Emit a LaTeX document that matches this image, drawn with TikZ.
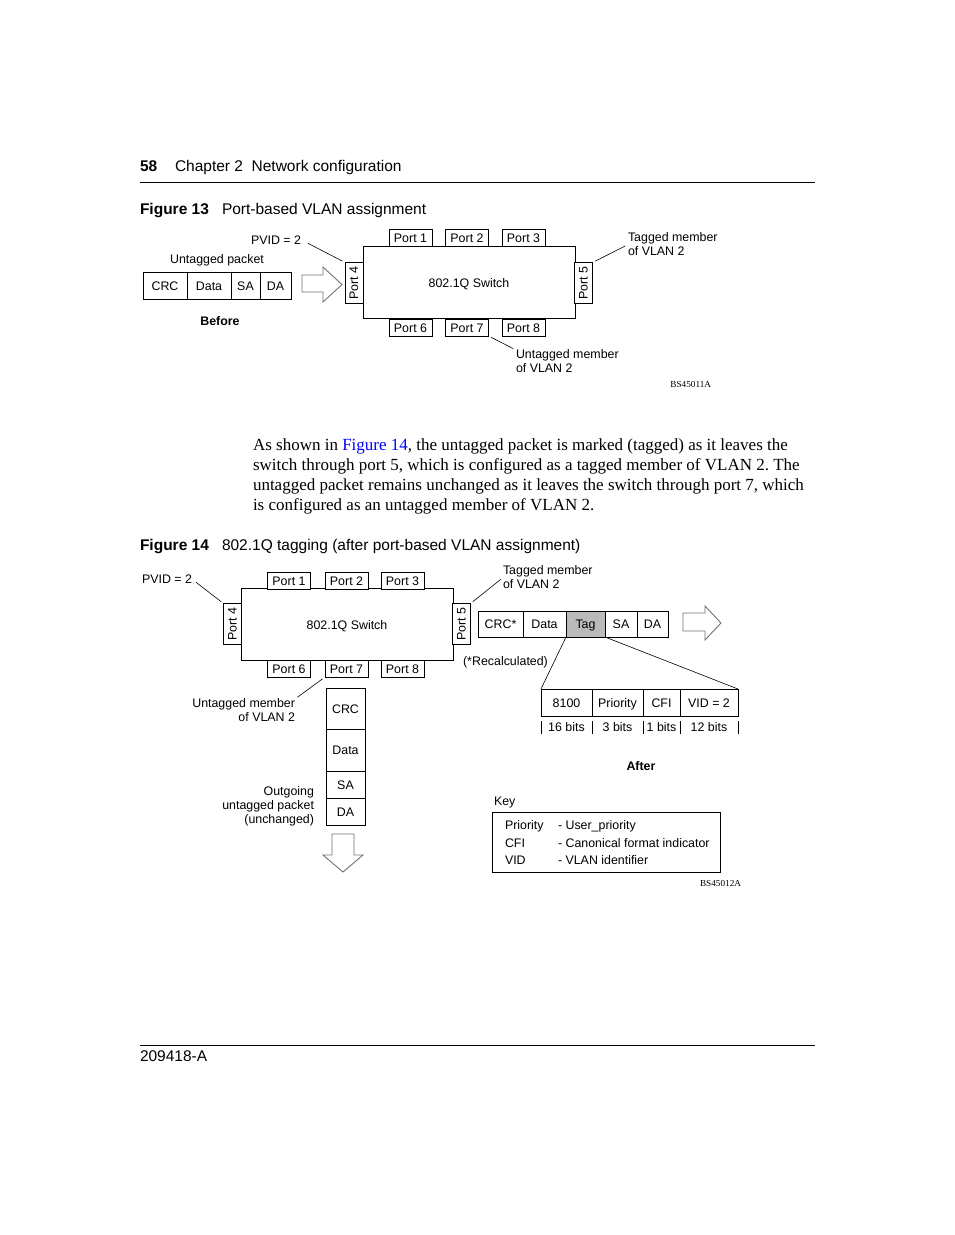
\documentclass[tikz,border=0pt]{standalone}
\usepackage{fontspec}
\setmainfont{Liberation Serif}
\setsansfont{Liberation Sans}
\usepackage{graphicx}
\usepackage{tikz}
\usetikzlibrary{positioning}
\frenchspacing

\newcommand{\figfont}{\sffamily\fontsize{12.4}{14}\selectfont}
\newcommand{\headfont}{\sffamily\fontsize{15.5}{18}\selectfont}
\newcommand{\bodyfont}{\rmfamily\fontsize{17}{20}\selectfont}
\newcommand{\codefont}{\rmfamily\fontsize{9.2}{10}\selectfont}

\begin{document}
\begin{tikzpicture}[x=1pt,y=-1pt,line width=0.8pt,
	every node/.style={inner sep=0pt,outer sep=0pt},
	cell/.style={draw,font=\figfont,minimum height=27pt,text height=9pt,text depth=0pt},
	port/.style={draw,fill=white,font=\figfont,minimum width=43pt,minimum height=17pt,text height=9pt,text depth=0pt},
	sideport/.style={draw,fill=white,font=\figfont,minimum width=18pt,minimum height=41pt},
	switchbox/.style={draw,font=\figfont,minimum width=212pt,minimum height=72pt,text height=9pt,text depth=0pt},
	note/.style={font=\figfont},
	leader/.style={line width=0.6pt,shorten <=3pt,shorten >=3pt},
	hollow/.style={draw=black!55,fill=white,line width=0.9pt,line join=miter}]
				\useasboundingbox[fill=white] (0,0) rectangle (954,1235);
				
				% page head
				\node[anchor=base west,font=\headfont\bfseries] (pagenum) at (140,171) {58};
				\node[anchor=base west,font=\headfont] (chapter) at (175,171) {Chapter 2~~Network configuration};
				\draw (140,182) -- (815,182);
				
				% figure 13
				\node[anchor=base west,font=\headfont\bfseries] (figA) at (140,214) {Figure 13};
				\node[anchor=base west,font=\headfont] (titleA) at (222,214) {Port-based VLAN assignment};
				
				\node[switchbox] (swA) at (469,282.5) {802.1Q Switch};
				\foreach \n/\x in {1/410.5, 2/467, 3/523.5}{
					\node[port] (pA\n) at (\x,237.5) {Port \n};
				}
				\foreach \n/\x in {6/410.5, 7/467, 8/523.5}{
					\node[port] (pA\n) at (\x,327.5) {Port \n};
				}
				\node[sideport] (pA4) at (354,283) {\rotatebox{90}{Port 4}};
				\node[sideport] (pA5) at (583.5,283) {\rotatebox{90}{Port 5}};
				
				\node[cell,minimum width=44pt] (crcA) at (165,285.5) {CRC};
				\node[cell,minimum width=44pt,right=0pt of crcA] (dataA) {Data};
				\node[cell,minimum width=29pt,right=0pt of dataA] (saA) {SA};
				\node[cell,minimum width=31pt,right=0pt of saA] (daA) {DA};
				\node[note,anchor=base] (pktA) at (217,263.5) {Untagged packet};
				\node[note,anchor=base,font=\figfont\bfseries] (beforeA) at (220,325.5) {Before};
				
				\draw[hollow] (302,275) -- (323,275) -- (323,267) -- (342,284.5) -- (323,302) -- (323,292) -- (302,292) -- cycle;
				
				\node[note,anchor=base east] (pvidA) at (301,244) {PVID = 2};
				\node[note,anchor=north west,align=left] (tagA) at (628,233) {Tagged member\\of VLAN 2};
				\node[note,anchor=north west,align=left] (untagA) at (516,350) {Untagged member\\of VLAN 2};
				\draw[leader,shorten <=8pt] (pvidA.east) -- (pA4.north west);
				\draw[leader] (pA5.north east) -- (tagA.west);
				\draw[leader] (pA7.south east) -- (untagA.north west);
				\node[anchor=base east,font=\codefont] (codeA) at (711,387) {BS45011A};
				
				% text
				\node[anchor=base west,font=\bodyfont] (lineA) at (253,450) {As shown in \textcolor{blue}{Figure 14}, the untagged packet is marked (tagged) as it leaves the};
				\node[anchor=base west,font=\bodyfont] (lineB) at (253,470) {switch through port 5, which is configured as a tagged member of VLAN 2. The};
				\node[anchor=base west,font=\bodyfont] (lineC) at (253,490) {untagged packet remains unchanged as it leaves the switch through port 7, which};
				\node[anchor=base west,font=\bodyfont] (lineD) at (253,510) {is configured as an untagged member of VLAN 2.};
				
				% figure 14
				\node[anchor=base west,font=\headfont\bfseries] (figB) at (140,550) {Figure 14};
				\node[anchor=base west,font=\headfont] (titleB) at (222,550) {802.1Q tagging (after port-based VLAN assignment)};
				
				\node[switchbox] (swB) at (347,624.5) {802.1Q Switch};
				\foreach \n/\x in {1/289, 2/346.5, 3/402.5}{
					\node[port] (pB\n) at (\x,580.5) {Port \n};
				}
				\foreach \n/\x in {6/289, 7/346.5, 8/402.5}{
					\node[port] (pB\n) at (\x,668.5) {Port \n};
				}
				\node[sideport] (pB4) at (232.5,624) {\rotatebox{90}{Port 4}};
				\node[sideport] (pB5) at (461.5,624) {\rotatebox{90}{Port 5}};
				
				\node[note,anchor=base east] (pvidB) at (192,583.5) {PVID = 2};
				\node[note,anchor=north west,align=left] (tagB) at (503,566) {Tagged member\\of VLAN 2};
				\node[note,anchor=north east,align=right] (untagB) at (295,699) {Untagged member\\of VLAN 2};
				\draw[leader,shorten <=5pt] (pvidB.east) -- (pB4.north west);
				\draw[leader] (pB5.north east) -- (tagB.west);
				\draw[leader] (pB7.south west) -- (untagB.north east);
				
				% tagged packet out of port 5
				\node[cell,minimum width=45pt,minimum height=26pt] (crcB) at (500.5,624) {CRC*};
				\node[cell,minimum width=43pt,minimum height=26pt,right=0pt of crcB] (dataB) {Data};
				\node[cell,minimum width=39pt,minimum height=26pt,fill=black!27,right=0pt of dataB] (tagfield) {Tag};
				\node[cell,minimum width=32pt,minimum height=26pt,right=0pt of tagfield] (saB) {SA};
				\node[cell,minimum width=31pt,minimum height=26pt,right=0pt of saB] (daB) {DA};
				\draw[hollow] (683,613) -- (705,613) -- (705,606) -- (721,623) -- (705,640) -- (705,631) -- (683,631) -- cycle;
				\node[note,anchor=base] (recalc) at (505.5,665.5) {(*Recalculated)};
				
				% tag fields
				\node[cell,minimum width=51pt] (tpid) at (566.5,702.5) {8100};
				\node[cell,minimum width=51pt,right=0pt of tpid] (prio) {Priority};
				\node[cell,minimum width=37pt,right=0pt of prio] (cfi) {CFI};
				\node[cell,minimum width=58pt,right=0pt of cfi] (vid) {VID = 2};
				\draw[line width=0.6pt] (tagfield.south west) -- (tpid.north west);
				\draw[line width=0.6pt] (tagfield.south east) -- (vid.north east);
				\foreach \x in {541,592,643,680,738}{
					\draw[line width=0.6pt] (\x,721) -- (\x,734);
				}
				\foreach \t/\x in {16 bits/566.5, 3 bits/617.5, 1 bits/661.5, 12 bits/709}{
					\node[note,anchor=base] at (\x,731.5) {\t};
				}
				\node[note,anchor=base,font=\figfont\bfseries] (afterB) at (641,770.5) {After};
				
				% untagged packet out of port 7
				\node[cell,minimum width=39pt,minimum height=41pt] (crcC) at (345.5,708.5) {CRC};
				\node[cell,minimum width=39pt,minimum height=42pt,below=0pt of crcC] (dataC) {Data};
				\node[cell,minimum width=39pt,minimum height=27pt,below=0pt of dataC] (saC) {SA};
				\node[cell,minimum width=39pt,minimum height=27pt,below=0pt of saC] (daC) {DA};
				\node[note,anchor=north east,align=right] (outC) at (314,787) {Outgoing\\untagged packet\\(unchanged)};
				\draw[hollow] (332,834) -- (354,834) -- (354,855) -- (363,855) -- (343,872) -- (323,855) -- (332,855) -- cycle;
				
				% key
				\node[note,anchor=base west] (keyhead) at (494,805.5) {Key};
				\node[draw,minimum width=228pt,minimum height=60pt] (keybox) at (606,842) {};
				\foreach \a/\b/\y in {Priority/- User\_priority/829.5, CFI/- Canonical format indicator/847.5, VID/- VLAN identifier/864.5}{
					\node[note,anchor=base west] at (505,\y) {\a};
					\node[note,anchor=base west] at (558,\y) {\b};
				}
				\node[anchor=base east,font=\codefont] (codeB) at (741,886) {BS45012A};
				
				% page foot
				\draw (140,1045) -- (815,1045);
				\node[anchor=base west,font=\headfont] (docnum) at (140,1061) {209418-A};
\end{tikzpicture}
\end{document}
